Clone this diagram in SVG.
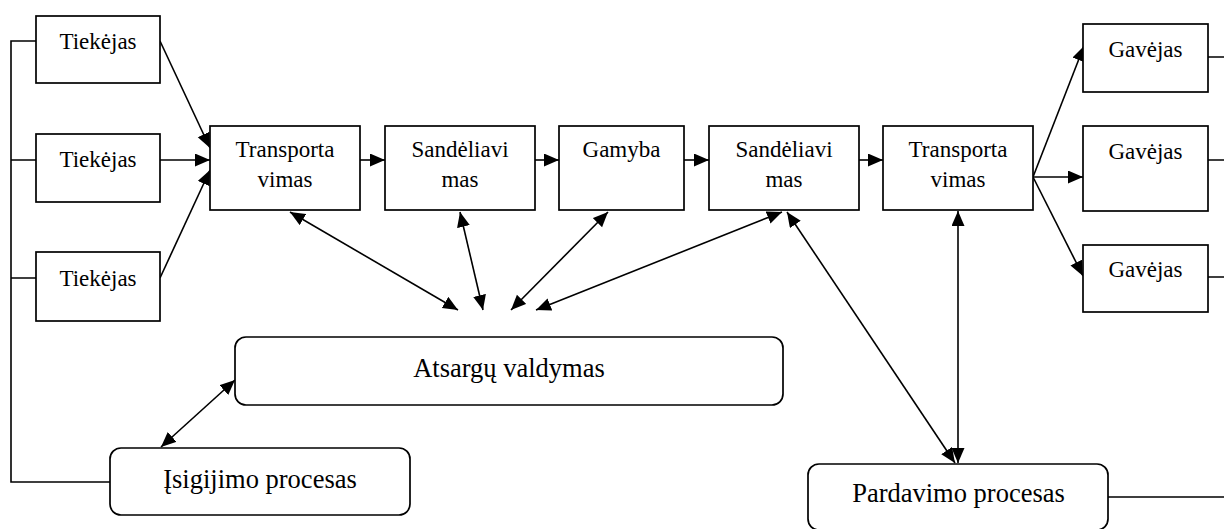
<svg xmlns="http://www.w3.org/2000/svg" width="1224" height="529" viewBox="0 0 1224 529">
<style>
.box{fill:#fff;stroke:#000;stroke-width:1.7}
.t{font-family:"Liberation Serif","Times New Roman",serif;font-size:23px;fill:#000;text-anchor:middle}
.tl{font-family:"Liberation Serif","Times New Roman",serif;font-size:26.5px;fill:#000;text-anchor:middle}
.c{fill:none;stroke:#000;stroke-width:1.6}
</style>
<defs>
<marker id="ah" markerUnits="userSpaceOnUse" markerWidth="16" markerHeight="14" refX="15" refY="6.5" orient="auto-start-reverse">
<path d="M0,0 L15,6.5 L0,13 Z" fill="#000"/>
</marker>
</defs>
<g id="connectors">
<path class="c" d="M36,41 H11 V482 H110 M11,160 H36 M11,278 H36"/>
<path class="c" d="M1208,57 H1224 M1208,160 H1224 M1208,277 H1224 M1108,497 H1224"/>
<line class="c" x1="160" y1="41" x2="210" y2="148" marker-end="url(#ah)"/>
<line class="c" x1="160" y1="160" x2="210" y2="160" marker-end="url(#ah)"/>
<line class="c" x1="160" y1="278" x2="210" y2="170" marker-end="url(#ah)"/>
<line class="c" x1="360" y1="160" x2="385" y2="160" marker-end="url(#ah)"/>
<line class="c" x1="535" y1="160" x2="559" y2="160" marker-end="url(#ah)"/>
<line class="c" x1="684" y1="160" x2="709" y2="160" marker-end="url(#ah)"/>
<line class="c" x1="859" y1="160" x2="883" y2="160" marker-end="url(#ah)"/>
<line class="c" x1="1033" y1="177" x2="1084" y2="46" marker-end="url(#ah)"/>
<line class="c" x1="1033" y1="177" x2="1083" y2="177" marker-end="url(#ah)"/>
<line class="c" x1="1033" y1="177" x2="1083" y2="276" marker-end="url(#ah)"/>
<line class="c" x1="290" y1="212" x2="458" y2="310" marker-start="url(#ah)" marker-end="url(#ah)"/>
<line class="c" x1="460" y1="212" x2="483" y2="310" marker-start="url(#ah)" marker-end="url(#ah)"/>
<line class="c" x1="608" y1="212" x2="511" y2="310" marker-start="url(#ah)" marker-end="url(#ah)"/>
<line class="c" x1="782" y1="212" x2="536" y2="310" marker-start="url(#ah)" marker-end="url(#ah)"/>
<line class="c" x1="235" y1="380" x2="161" y2="447" marker-start="url(#ah)" marker-end="url(#ah)"/>
<line class="c" x1="787" y1="212" x2="955" y2="463" marker-start="url(#ah)" marker-end="url(#ah)"/>
<line class="c" x1="958" y1="211" x2="958" y2="463" marker-start="url(#ah)" marker-end="url(#ah)"/>
</g>
<g id="tiekejas1"><rect class="box" x="36" y="16" width="124" height="67"/><text class="t" x="98" y="49">Tiekėjas</text></g>
<g id="tiekejas2"><rect class="box" x="36" y="134" width="124" height="68"/><text class="t" x="98" y="167">Tiekėjas</text></g>
<g id="tiekejas3"><rect class="box" x="36" y="252" width="124" height="69"/><text class="t" x="98" y="286">Tiekėjas</text></g>
<g id="transportavimas1"><rect class="box" x="210" y="126" width="150" height="84"/><text class="t" x="285" y="157">Transporta</text><text class="t" x="285" y="187">vimas</text></g>
<g id="sandeliavimas1"><rect class="box" x="385" y="126" width="150" height="84"/><text class="t" x="460" y="157">Sandėliavi</text><text class="t" x="460" y="187">mas</text></g>
<g id="gamyba"><rect class="box" x="559" y="126" width="125" height="84"/><text class="t" x="621.5" y="157">Gamyba</text></g>
<g id="sandeliavimas2"><rect class="box" x="709" y="126" width="150" height="84"/><text class="t" x="784" y="157">Sandėliavi</text><text class="t" x="784" y="187">mas</text></g>
<g id="transportavimas2"><rect class="box" x="883" y="126" width="150" height="84"/><text class="t" x="958" y="157">Transporta</text><text class="t" x="958" y="187">vimas</text></g>
<g id="gavejas1"><rect class="box" x="1083" y="24" width="125" height="68"/><text class="t" x="1145.5" y="57">Gavėjas</text></g>
<g id="gavejas2"><rect class="box" x="1083" y="126" width="125" height="85"/><text class="t" x="1145.5" y="159">Gavėjas</text></g>
<g id="gavejas3"><rect class="box" x="1083" y="245" width="125" height="67"/><text class="t" x="1145.5" y="277">Gavėjas</text></g>
<g id="atsargu"><rect class="box" x="235" y="337" width="548" height="68" rx="11"/><text class="tl" x="509" y="377">Atsargų valdymas</text></g>
<g id="isigijimo"><rect class="box" x="110" y="448" width="300" height="67" rx="11"/><text class="tl" x="260" y="488">Įsigijimo procesas</text></g>
<g id="pardavimo"><rect class="box" x="808" y="464" width="300" height="66" rx="11"/><text class="tl" x="958.5" y="502">Pardavimo procesas</text></g>
</svg>
